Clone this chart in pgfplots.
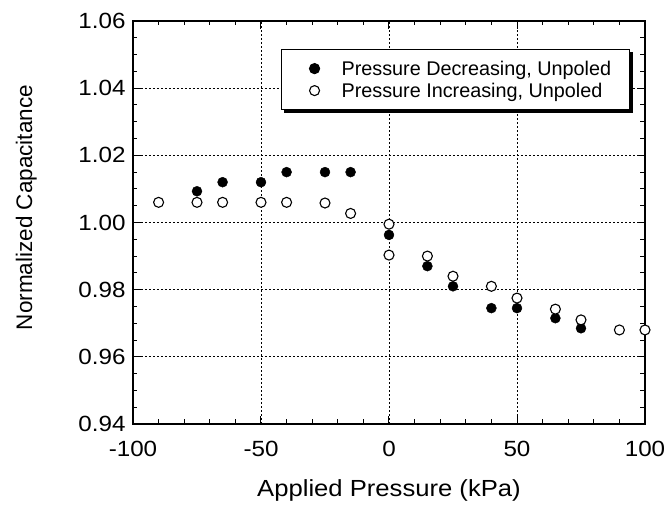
\documentclass[border=0pt]{standalone}
\usepackage{fontspec}
\setmainfont{Liberation Sans}
\newfontfamily\wide{Liberation Sans}[FakeStretch=1.1]
\usepackage{pgfplots}
\pgfplotsset{compat=1.18}
\pgfplotsset{myleg/.style={legend image code/.code={\path[draw=none,fill=none] (0pt,-5pt) rectangle (42pt,5pt); \draw[##1] plot coordinates {(17pt,0pt)};}}}
\begin{document}
\begin{tikzpicture}
\useasboundingbox (-133pt,-81pt) rectangle (532pt,424pt);
\begin{axis}[
  scale only axis, width=512pt, height=403pt,
  at={(0,0)}, anchor=south west,
  xmin=-100, xmax=100, ymin=0.94, ymax=1.06,
  xtick={-100,-50,0,50,100},
  ytick={0.94,0.96,0.98,1.00,1.02,1.04,1.06},
  minor x tick num=4, minor y tick num=3,
  tick align=inside, major tick length=8pt, minor tick length=4.5pt,
  axis line style={line width=1.6pt},
  every tick/.style={black, line width=1pt},
  grid=major,
  major grid style={black, dash pattern=on 2pt off 2pt, line width=0.8pt},
  /pgf/number format/assume math mode=true,
  tick label style={font=\wide\fontsize{22}{26}\selectfont},
  xticklabel style={yshift=-14pt},
  yticklabel style={xshift=-4pt, /pgf/number format/.cd, fixed, fixed zerofill, precision=2},
  xlabel={Applied Pressure (kPa)},
  ylabel={Normalized Capacitance},
  xlabel style={font=\wide\fontsize{23.3}{27}\selectfont, at={(axis description cs:0.5,-0.181)}, anchor=base},
  ylabel style={font=\fontsize{22.5}{27}\selectfont, at={(axis description cs:-0.197,0.537)}, anchor=base},
  clip=false,
  legend cell align=left,
  legend style={name=leg, at={(axis description cs:0.289,0.9305)}, anchor=north west,
    draw=black, line width=1.2pt, fill=white,
    font=\fontsize{19.8}{24}\selectfont,
    inner xsep=16pt, inner ysep=8pt,
    nodes={inner ysep=0pt, inner xsep=2pt, minimum height=22pt}},
]
\addplot[only marks, mark=*, mark size=5pt, mark options={fill=black, draw=black}, myleg]
coordinates {
(-75,1.0093) (-65,1.012) (-50,1.012) (-40,1.015) (-25,1.015) (-15,1.015)
(0,0.9963) (15,0.987) (25,0.981) (40,0.9745) (50,0.9745) (65,0.9715) (75,0.9685)
};
\addlegendentry{Pressure Decreasing, Unpoled}
\addplot[only marks, mark=*, mark size=5pt, mark options={fill=white, draw=black, line width=1.1pt}, myleg]
coordinates {
(-90,1.006) (-75,1.006) (-65,1.006) (-50,1.006) (-40,1.006) (-25,1.0058) (-15,1.0027)
(0,0.9903) (0,0.9995) (15,0.990) (25,0.984) (40,0.981) (50,0.9775) (65,0.9742)
(75,0.971) (90,0.968) (100,0.968)
};
\addlegendentry{Pressure Increasing, Unpoled}
\end{axis}
\fill[black] ([shift={(0pt,-3pt)}]leg.north east) rectangle ([shift={(3pt,-3pt)}]leg.south east);
\fill[black] ([shift={(3pt,0pt)}]leg.south west) rectangle ([shift={(3pt,-3pt)}]leg.south east);
\end{tikzpicture}
\end{document}
